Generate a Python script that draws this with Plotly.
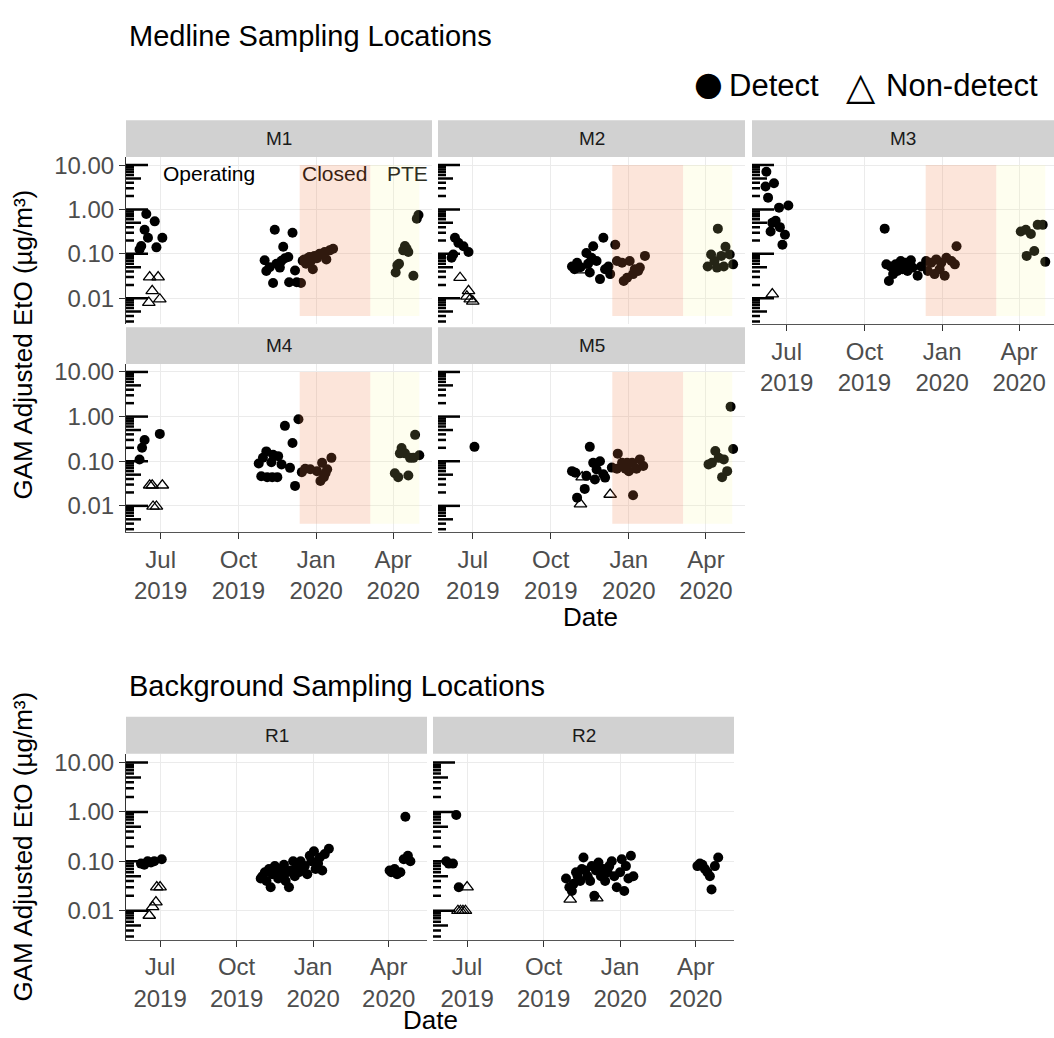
import plotly.graph_objects as go

W, H = 1054, 1038

# ------------------------------------------------------------------ data
PANEL_NAMES = ["M1", "M2", "M3", "M4", "M5", "R1", "R2"]
X_TICK_VALS = ["2019-07-01", "2019-10-01", "2020-01-01", "2020-04-01"]
X_TICK_TEXT = ["Jul<br>2019", "Oct<br>2019", "Jan<br>2020", "Apr<br>2020"]
Y_TICK_VALS = [0.01, 0.1, 1, 10]
Y_TICK_TEXT = ["0.01", "0.10", "1.00", "10.00"]
PERIOD_LABELS = ["Operating", "Closed", "PTE"]
PERIOD_LABEL_DATES = ["2019-08-27", "2020-01-23", "2020-04-18"]
CLOSED_START, PTE_START, PTE_END = "2019-12-12 12:00", "2020-03-05", "2020-05-02"
PERIOD_Y = [0.004, 10]
LEGEND_LABELS = ["Detect", "Non-detect"]
LEGEND_GLYPHS = ["●", "△"]

M1_det_dates = ["2019-06-06", "2019-06-08", "2019-06-12", "2019-06-14", "2019-06-16", "2019-06-24", "2019-06-26", "2019-07-03",
                "2019-11-01", "2019-11-03", "2019-11-07", "2019-11-11", "2019-11-13", "2019-11-15", "2019-11-19", "2019-11-21",
                "2019-11-23", "2019-11-25", "2019-11-29", "2019-11-30", "2019-12-04", "2019-12-07", "2019-12-09",
                "2019-12-14", "2019-12-16", "2019-12-18", "2019-12-20", "2019-12-22", "2019-12-24", "2019-12-26", "2019-12-28",
                "2019-12-30", "2020-01-02", "2020-01-05", "2020-01-08", "2020-01-11", "2020-01-13", "2020-01-17", "2020-01-21",
                "2020-04-04", "2020-04-06", "2020-04-08", "2020-04-13", "2020-04-15", "2020-04-17", "2020-04-19", "2020-04-25",
                "2020-04-29", "2020-05-01"]
M1_det_vals = [0.125, 0.15, 0.35, 0.79, 0.23, 0.54, 0.14, 0.23,
               0.072, 0.041, 0.05, 0.022, 0.35, 0.06, 0.049, 0.07,
               0.145, 0.08, 0.085, 0.023, 0.30, 0.042, 0.023,
               0.022, 0.07, 0.075, 0.06, 0.08, 0.085, 0.07, 0.045,
               0.09, 0.08, 0.1, 0.1, 0.11, 0.075, 0.12, 0.13,
               0.038, 0.055, 0.06, 0.12, 0.15, 0.13, 0.11, 0.032,
               0.62, 0.75]
M1_nd_dates = ["2019-06-17", "2019-06-18", "2019-06-21", "2019-06-28", "2019-06-30"]
M1_nd_vals = [0.008, 0.03, 0.0147, 0.03, 0.0095]

M2_det_dates = ["2019-06-06", "2019-06-08", "2019-06-10", "2019-06-14", "2019-06-20", "2019-06-26",
                "2019-10-26", "2019-10-29", "2019-11-01", "2019-11-05", "2019-11-12", "2019-11-14", "2019-11-16", "2019-11-18",
                "2019-11-20", "2019-11-24", "2019-11-28", "2019-12-02", "2019-12-04", "2019-12-08", "2019-12-10",
                "2019-12-16", "2019-12-18", "2019-12-24", "2019-12-26", "2019-12-30", "2020-01-02", "2020-01-06", "2020-01-08",
                "2020-01-12", "2020-01-14", "2020-01-20",
                "2020-04-03", "2020-04-07", "2020-04-11", "2020-04-14", "2020-04-15", "2020-04-19", "2020-04-22", "2020-04-24",
                "2020-04-29", "2020-05-03"]
M2_det_vals = [0.082, 0.097, 0.23, 0.177, 0.149, 0.11,
               0.052, 0.045, 0.063, 0.05, 0.105, 0.06, 0.038, 0.082,
               0.149, 0.069, 0.027, 0.23, 0.045, 0.052, 0.035,
               0.16, 0.069, 0.063, 0.0245, 0.029, 0.069, 0.035, 0.045,
               0.041, 0.049, 0.09,
               0.052, 0.097, 0.069, 0.049, 0.37, 0.09, 0.052, 0.145,
               0.097, 0.058]
M2_nd_dates = ["2019-06-16", "2019-06-24", "2019-06-26", "2019-06-28", "2019-07-01", "2019-11-08"]
M2_nd_vals = [0.029, 0.011, 0.0147, 0.0095, 0.0085, 0.043]

M3_det_dates = ["2019-06-06", "2019-06-07", "2019-06-09", "2019-06-12", "2019-06-14", "2019-06-16", "2019-06-18", "2019-06-22",
                "2019-06-23", "2019-06-26", "2019-06-29", "2019-07-03",
                "2019-10-25", "2019-10-27", "2019-10-30", "2019-11-01", "2019-11-04", "2019-11-07", "2019-11-09", "2019-11-13",
                "2019-11-15", "2019-11-19", "2019-11-21", "2019-11-25", "2019-11-27", "2019-12-03", "2019-12-07",
                "2019-12-13", "2019-12-15", "2019-12-19", "2019-12-23", "2019-12-25", "2019-12-29", "2019-12-31", "2020-01-04",
                "2020-01-06", "2020-01-12", "2020-01-16", "2020-01-18",
                "2020-04-03", "2020-04-09", "2020-04-10", "2020-04-15", "2020-04-19", "2020-04-23", "2020-04-29", "2020-05-02"]
M3_det_vals = [3.3, 7.1, 1.85, 0.32, 0.5, 3.9, 0.56, 1.1,
               0.4, 0.16, 0.27, 1.23,
               0.37, 0.058, 0.0245, 0.052, 0.035, 0.058, 0.041, 0.069,
               0.045, 0.063, 0.041, 0.072, 0.049, 0.032, 0.052,
               0.069, 0.041, 0.063, 0.035, 0.075, 0.045, 0.063, 0.032,
               0.082, 0.069, 0.058, 0.149,
               0.32, 0.35, 0.09, 0.28, 0.116, 0.45, 0.45, 0.066]
M3_nd_dates = ["2019-06-14"]
M3_nd_vals = [0.0124]

M4_det_dates = ["2019-06-06", "2019-06-09", "2019-06-12", "2019-06-30",
                "2019-10-25", "2019-10-28", "2019-10-30", "2019-11-03", "2019-11-04", "2019-11-09", "2019-11-10", "2019-11-11",
                "2019-11-16", "2019-11-17", "2019-11-21", "2019-11-25", "2019-12-01", "2019-12-04", "2019-12-07", "2019-12-11",
                "2019-12-15", "2019-12-19", "2019-12-25", "2020-01-02", "2020-01-06", "2020-01-08", "2020-01-10", "2020-01-12",
                "2020-01-14", "2020-01-19",
                "2020-04-03", "2020-04-07", "2020-04-09", "2020-04-11", "2020-04-15", "2020-04-19", "2020-04-21", "2020-04-25",
                "2020-04-27", "2020-05-02"]
M4_det_vals = [0.109, 0.20, 0.30, 0.41,
               0.089, 0.046, 0.12, 0.166, 0.044, 0.095, 0.044, 0.14,
               0.044, 0.13, 0.085, 0.62, 0.071, 0.255, 0.028, 0.87,
               0.057, 0.068, 0.066, 0.06, 0.036, 0.092, 0.044, 0.054,
               0.066, 0.119,
               0.054, 0.044, 0.15, 0.198, 0.15, 0.048, 0.119, 0.119,
               0.39, 0.136]
M4_nd_dates = ["2019-06-18", "2019-06-21", "2019-06-22", "2019-06-26", "2019-07-03"]
M4_nd_vals = [0.029, 0.029, 0.0097, 0.0097, 0.029]

M5_det_dates = ["2019-07-03",
                "2019-10-26", "2019-10-30", "2019-11-01", "2019-11-10", "2019-11-12", "2019-11-16", "2019-11-20", "2019-11-22",
                "2019-11-24", "2019-11-28", "2019-12-02", "2019-12-04", "2019-12-12",
                "2019-12-18", "2019-12-19", "2019-12-24", "2019-12-28", "2019-12-30", "2020-01-01", "2020-01-05", "2020-01-06",
                "2020-01-10", "2020-01-14", "2020-01-18",
                "2020-04-04", "2020-04-08", "2020-04-12", "2020-04-16", "2020-04-20", "2020-04-22", "2020-04-26", "2020-04-30",
                "2020-05-03"]
M5_det_vals = [0.21,
               0.06, 0.055, 0.0153, 0.024, 0.047, 0.21, 0.092, 0.039,
               0.065, 0.1, 0.051, 0.043, 0.072,
               0.068, 0.148, 0.092, 0.068, 0.092, 0.06, 0.092, 0.0173,
               0.068, 0.11, 0.078,
               0.085, 0.092, 0.17, 0.119, 0.044, 0.11, 0.06, 1.67,
               0.188]
M5_nd_dates = ["2019-11-05", "2019-11-07", "2019-12-10"]
M5_nd_vals = [0.011, 0.044, 0.018]

R1_det_dates = ["2019-06-08", "2019-06-12", "2019-06-16", "2019-06-20", "2019-06-24", "2019-07-03",
                "2019-10-30", "2019-11-01", "2019-11-04", "2019-11-06", "2019-11-09", "2019-11-11", "2019-11-13", "2019-11-16",
                "2019-11-18", "2019-11-20", "2019-11-22", "2019-11-25", "2019-11-27", "2019-11-29", "2019-12-01", "2019-12-03",
                "2019-12-05", "2019-12-08", "2019-12-10", "2019-12-12", "2019-12-15", "2019-12-17", "2019-12-19", "2019-12-22",
                "2019-12-25", "2019-12-28", "2019-12-30", "2020-01-02", "2020-01-04", "2020-01-07", "2020-01-09", "2020-01-12",
                "2020-01-15", "2020-01-20",
                "2020-04-02", "2020-04-04", "2020-04-08", "2020-04-11", "2020-04-15", "2020-04-19", "2020-04-21", "2020-04-24",
                "2020-04-27"]
R1_det_vals = [0.09, 0.085, 0.1, 0.095, 0.1, 0.11,
               0.045, 0.05, 0.06, 0.04, 0.07, 0.03, 0.055, 0.08,
               0.06, 0.045, 0.07, 0.05, 0.085, 0.04, 0.06, 0.03,
               0.065, 0.1, 0.05, 0.075, 0.06, 0.1, 0.065, 0.08,
               0.055, 0.13, 0.1, 0.16, 0.07, 0.09, 0.12, 0.065,
               0.14, 0.18,
               0.065, 0.06, 0.07, 0.055, 0.06, 0.11, 0.8, 0.13,
               0.1]
R1_nd_dates = ["2019-06-18", "2019-06-22", "2019-06-26", "2019-06-27", "2019-07-01"]
R1_nd_vals = [0.008, 0.012, 0.015, 0.03, 0.03]

R2_det_dates = ["2019-06-06", "2019-06-09", "2019-06-14", "2019-06-18", "2019-06-21",
                "2019-10-28", "2019-11-01", "2019-11-04", "2019-11-06", "2019-11-09", "2019-11-11", "2019-11-14", "2019-11-16",
                "2019-11-18", "2019-11-20", "2019-11-23", "2019-11-26", "2019-11-28", "2019-12-01", "2019-12-03", "2019-12-06",
                "2019-12-09", "2019-12-12", "2019-12-14", "2019-12-17", "2019-12-19", "2019-12-22", "2019-12-25", "2019-12-28",
                "2020-01-01", "2020-01-03", "2020-01-06", "2020-01-08", "2020-01-11", "2020-01-14", "2020-01-17",
                "2020-04-03", "2020-04-06", "2020-04-09", "2020-04-12", "2020-04-15", "2020-04-18", "2020-04-20", "2020-04-24",
                "2020-04-28"]
R2_det_vals = [0.1, 0.09, 0.09, 0.87, 0.03,
               0.045, 0.03, 0.025, 0.035, 0.06, 0.05, 0.04, 0.07,
               0.12, 0.065, 0.05, 0.04, 0.08, 0.02, 0.065, 0.095,
               0.05, 0.07, 0.04, 0.06, 0.08, 0.1, 0.05, 0.03,
               0.06, 0.11, 0.025, 0.08, 0.045, 0.13, 0.05,
               0.08, 0.09, 0.085, 0.07, 0.06, 0.05, 0.027, 0.08,
               0.12]
R2_nd_dates = ["2019-06-20", "2019-06-23", "2019-06-26", "2019-06-29", "2019-07-01", "2019-11-02", "2019-12-04"]
R2_nd_vals = [0.01, 0.01, 0.01, 0.01, 0.03, 0.017, 0.018]

SERIES = {
    "M1": (M1_det_dates, M1_det_vals, M1_nd_dates, M1_nd_vals),
    "M2": (M2_det_dates, M2_det_vals, M2_nd_dates, M2_nd_vals),
    "M3": (M3_det_dates, M3_det_vals, M3_nd_dates, M3_nd_vals),
    "M4": (M4_det_dates, M4_det_vals, M4_nd_dates, M4_nd_vals),
    "M5": (M5_det_dates, M5_det_vals, M5_nd_dates, M5_nd_vals),
    "R1": (R1_det_dates, R1_det_vals, R1_nd_dates, R1_nd_vals),
    "R2": (R2_det_dates, R2_det_vals, R2_nd_dates, R2_nd_vals),
}

# ------------------------------------------------------------------ layout config (pixels)
FONT = "Liberation Sans, Arial, sans-serif"
X_START = "2019-05-21"
Y_RANGE = [-2.584, 1.18]
STRIP_H = 37
PANEL_BOX = {  # x0, x1, y0(top), y1(bottom), x-range end, show y labels, show x labels, periods
    "M1": (126, 432, 152, 320, "2020-05-17", True, False, True),
    "M2": (438, 745, 152, 320, "2020-05-17", False, False, True),
    "M3": (752, 1054, 152, 320, "2020-05-12 08:00", False, True, True),
    "M4": (126, 432, 360, 529, "2020-05-17", True, True, True),
    "M5": (438, 745, 360, 529, "2020-05-17", False, True, True),
    "R1": (126, 427, 752, 939, "2020-05-17", True, True, False),
    "R2": (433, 734, 752, 939, "2020-05-17", False, True, False),
}


def fx(px):
    return px / W


def fy(py):
    return 1 - py / H


fig = go.Figure()
layout = {}
shapes = []
annotations = []

for i, name in enumerate(PANEL_NAMES, start=1):
    x0, x1, y0, y1, xend, ylab, xlab, periods = PANEL_BOX[name]
    xid = "x" if i == 1 else f"x{i}"
    yid = "y" if i == 1 else f"y{i}"
    layout["xaxis" if i == 1 else f"xaxis{i}"] = dict(
        domain=[fx(x0), fx(x1)], anchor=yid, type="date", range=[X_START, xend],
        tickvals=X_TICK_VALS, ticktext=X_TICK_TEXT, showticklabels=xlab,
        ticks="outside" if xlab else "", ticklen=6, tickwidth=1, tickcolor="#333333",
        showline=xlab, linecolor="#555555", linewidth=1,
        showgrid=True, gridcolor="#EBEBEB", gridwidth=1.4, zeroline=False,
        tickfont=dict(family=FONT, size=24, color="#4D4D4D"), fixedrange=True,
    )
    layout["yaxis" if i == 1 else f"yaxis{i}"] = dict(
        domain=[fy(y1), fy(y0)], anchor=xid, type="log", range=Y_RANGE,
        tickvals=Y_TICK_VALS, ticktext=Y_TICK_TEXT, showticklabels=ylab,
        ticks="outside" if ylab else "", ticklen=6, tickwidth=1, tickcolor="#333333",
        showline=ylab, linecolor="#333333", linewidth=1,
        showgrid=True, gridcolor="#EBEBEB", gridwidth=1.4, zeroline=False,
        tickfont=dict(family=FONT, size=24, color="#4D4D4D"), fixedrange=True,
    )

    det_d, det_v, nd_d, nd_v = SERIES[name]
    fig.add_trace(go.Scatter(x=det_d, y=det_v, mode="markers", xaxis=xid, yaxis=yid, name="Detect",
                             marker=dict(symbol="circle", size=10, color="black"),
                             showlegend=False, hoverinfo="x+y"))
    fig.add_trace(go.Scatter(x=nd_d, y=nd_v, mode="markers", xaxis=xid, yaxis=yid, name="Non-detect",
                             marker=dict(symbol="triangle-up-open", size=11, color="black",
                                         line=dict(width=1.3, color="black")),
                             showlegend=False, hoverinfo="x+y"))

    # strip
    shapes.append(dict(type="rect", xref="paper", yref="paper", x0=fx(x0), x1=fx(x1),
                       y0=fy(y0), y1=fy(y0 - STRIP_H), fillcolor="#D1D1D1",
                       line=dict(width=0), layer="below"))
    annotations.append(dict(text=name, xref="paper", yref="paper", x=fx((x0 + x1) / 2),
                            y=fy(y0 - STRIP_H / 2), showarrow=False, xanchor="center", yanchor="middle",
                            font=dict(family=FONT, size=19, color="#1A1A1A")))

    # period shading (drawn over the points, as in the reference)
    if periods:
        shapes.append(dict(type="rect", xref=xid, yref=yid, x0=CLOSED_START, x1=PTE_START,
                           y0=PERIOD_Y[0], y1=PERIOD_Y[1], fillcolor="rgb(240,125,70)",
                           opacity=0.2, line=dict(width=0), layer="above"))
        shapes.append(dict(type="rect", xref=xid, yref=yid, x0=PTE_START, x1=PTE_END,
                           y0=PERIOD_Y[0], y1=PERIOD_Y[1], fillcolor="rgb(249,249,150)",
                           opacity=0.15, line=dict(width=0), layer="above"))

    # log ticks on the left edge of each panel
    pw = x1 - x0
    for k in range(-3, 2):
        for d in range(1, 10):
            v = d * 10.0 ** k
            if not (10 ** Y_RANGE[0] <= v <= 10 ** Y_RANGE[1]):
                continue
            length = 22 if d == 1 else (15 if d == 5 else 8)
            shapes.append(dict(type="line", xref=f"{xid} domain", yref=yid,
                               x0=0, x1=length / pw, y0=v, y1=v,
                               line=dict(color="black", width=2.5), layer="above"))

# period labels in M1
for lab, dt, col in zip(PERIOD_LABELS, PERIOD_LABEL_DATES, ["#000000", "#3A1E10", "#2E2E22"]):
    annotations.append(dict(text=lab, xref="x", yref="y domain", x=dt, y=1 - (168 - 152) / (320 - 152),
                            showarrow=False, xanchor="center", yanchor="middle",
                            font=dict(family=FONT, size=21, color=col)))

# titles
annotations.append(dict(text="Medline Sampling Locations", xref="paper", yref="paper", x=fx(127), y=fy(30),
                        showarrow=False, xanchor="left", yanchor="middle",
                        font=dict(family=FONT, size=29, color="#000000")))
annotations.append(dict(text="Background Sampling Locations", xref="paper", yref="paper", x=fx(127), y=fy(684),
                        showarrow=False, xanchor="left", yanchor="middle",
                        font=dict(family=FONT, size=29, color="#000000")))
for yc in [(152 + 529) / 2, (752 + 939) / 2]:
    annotations.append(dict(text="GAM Adjusted EtO (µg/m³)", xref="paper", yref="paper", x=fx(23), y=fy(yc),
                            showarrow=False, textangle=-90, xanchor="center", yanchor="middle",
                            font=dict(family=FONT, size=26, color="#000000")))
annotations.append(dict(text="Date", xref="paper", yref="paper", x=fx((126 + 1054) / 2), y=fy(615),
                        showarrow=False, xanchor="center", yanchor="middle",
                        font=dict(family=FONT, size=26, color="#000000")))
annotations.append(dict(text="Date", xref="paper", yref="paper", x=fx((126 + 734) / 2), y=fy(1020),
                        showarrow=False, xanchor="center", yanchor="middle",
                        font=dict(family=FONT, size=26, color="#000000")))

# legend (key glyphs + labels)
LEG_Y = 80
for glyph, gx, gy, gsize, lab, lx in zip(LEGEND_GLYPHS, [708, 861], [LEG_Y - 2, LEG_Y], [33, 38],
                                         LEGEND_LABELS, [727, 884]):
    annotations.append(dict(text=glyph, xref="paper", yref="paper", x=fx(gx), y=fy(gy),
                            showarrow=False, xanchor="center", yanchor="middle",
                            font=dict(family="DejaVu Sans", size=gsize, color="#000000")))
    annotations.append(dict(text=lab, xref="paper", yref="paper", x=fx(lx), y=fy(LEG_Y),
                            showarrow=False, xanchor="left", yanchor="middle",
                            font=dict(family=FONT, size=31, color="#000000")))

fig.update_layout(
    width=W, height=H, autosize=False,
    margin=dict(l=0, r=0, t=0, b=0),
    paper_bgcolor="white", plot_bgcolor="white",
    font=dict(family=FONT, color="#000000"),
    shapes=shapes, annotations=annotations, showlegend=False,
    **layout,
)

fig.write_html("out.html")
